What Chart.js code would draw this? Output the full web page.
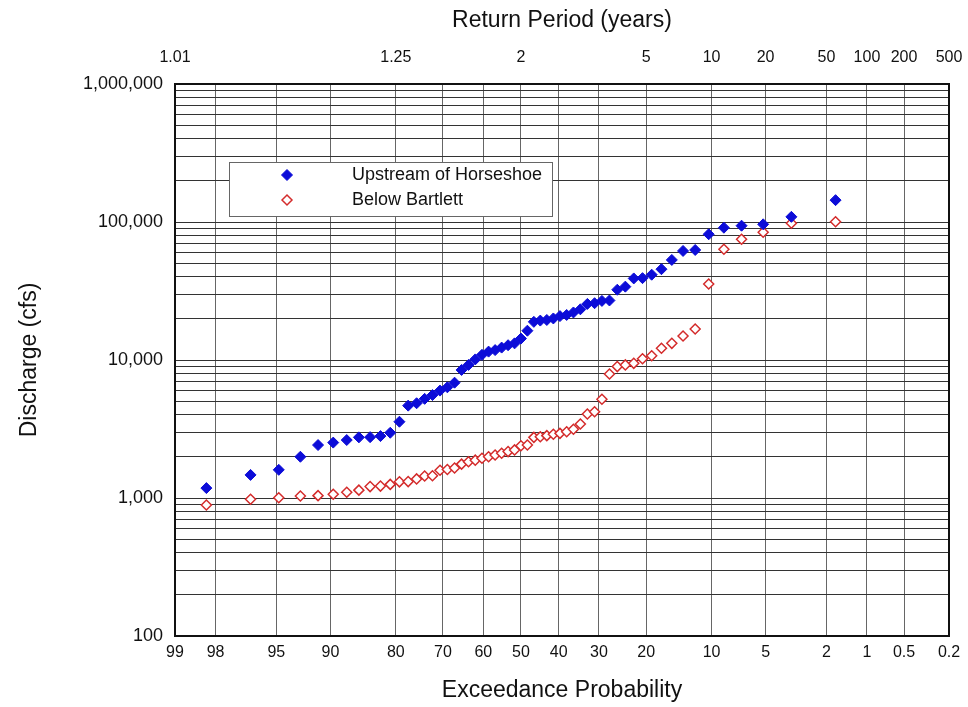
<!DOCTYPE html>
<html>
<head>
<meta charset="utf-8">
<script src="https://cdn.jsdelivr.net/npm/chart.js@4.4.1/dist/chart.umd.min.js"></script>
<style>
  html, body { margin: 0; padding: 0; background: #fff; }
  #wrap { width: 968px; height: 707px; position: relative; }
</style>
</head>
<body>
<div id="wrap"><canvas id="chart"></canvas></div>
<script>
// exceedance probability (%) of each ranked flow
const exceedancePct = [98.28, 96.55, 94.83, 93.10, 91.38, 89.66, 87.93, 86.21, 84.48, 82.76,
  81.03, 79.31, 77.59, 75.86, 74.14, 72.41, 70.69, 68.97, 67.24, 65.52,
  63.79, 62.07, 60.34, 58.62, 56.90, 55.17, 53.45, 51.72, 50.00, 48.28,
  46.55, 44.83, 43.10, 41.38, 39.66, 37.93, 36.21, 34.48, 32.76, 31.03,
  29.31, 27.59, 25.86, 24.14, 22.41, 20.69, 18.97, 17.24, 15.52, 13.79,
  12.07, 10.34, 8.62, 6.90, 5.17, 3.45, 1.72];

const upstreamHorseshoe = [1180, 1470, 1600, 1990, 2420, 2520, 2630, 2750, 2760, 2810,
  2970, 3570, 4670, 4860, 5230, 5570, 6000, 6340, 6850, 8470,
  9210, 10100, 10900, 11500, 11800, 12300, 12800, 13200, 14300, 16300,
  18900, 19300, 19500, 20000, 20800, 21200, 22100, 23300, 25500, 25800,
  26800, 27000, 32300, 34000, 39000, 39200, 41500, 45500, 53100, 61700,
  62700, 81500, 90900, 94000, 96200, 109000, 144000];

const belowBartlett = [890, 980, 1005, 1035, 1040, 1065, 1100, 1140, 1210, 1220,
  1255, 1310, 1315, 1375, 1445, 1450, 1590, 1610, 1650, 1760,
  1830, 1880, 1940, 1990, 2050, 2110, 2170, 2230, 2390, 2420,
  2750, 2780, 2830, 2900, 2940, 3020, 3150, 3440, 4060, 4220,
  5190, 7920, 8960, 9210, 9460, 10200, 10740, 12160, 13210, 14930,
  16780, 35550, 63460, 74950, 84200, 97900, 100500];

const probTicks = [99, 98, 95, 90, 80, 70, 60, 50, 40, 30, 20, 10, 5, 2, 1, 0.5, 0.2];
const probTickLabels = ['99', '98', '95', '90', '80', '70', '60', '50', '40', '30', '20', '10', '5', '2', '1', '0.5', '0.2'];
const returnTicks = [99, 80, 50, 20, 10, 5, 2, 1, 0.5, 0.2];
const returnTickLabels = ['1.01', '1.25', '2', '5', '10', '20', '50', '100', '200', '500'];
const yDecades = [100, 1000, 10000, 100000, 1000000];
const yTickLabels = ['100', '1,000', '10,000', '100,000', '1,000,000'];

// inverse standard normal CDF (Acklam)
function probit(p) {
  const a = [-39.69683028665376, 220.9460984245205, -275.9285104469687, 138.3577518672690, -30.66479806614716, 2.506628277459239];
  const b = [-54.47609879822406, 161.5858368580409, -155.6989798598866, 66.80131188771972, -13.28068155288572];
  const c = [-0.007784894002430293, -0.3223964580411365, -2.400758277161838, -2.549732539343734, 4.374664141464968, 2.938163982698783];
  const d = [0.007784695709041462, 0.3224671290700398, 2.445134137142996, 3.754408661907416];
  const pl = 0.02425;
  let q, r;
  if (p < pl) {
    q = Math.sqrt(-2 * Math.log(p));
    return (((((c[0] * q + c[1]) * q + c[2]) * q + c[3]) * q + c[4]) * q + c[5]) / ((((d[0] * q + d[1]) * q + d[2]) * q + d[3]) * q + 1);
  }
  if (p > 1 - pl) {
    q = Math.sqrt(-2 * Math.log(1 - p));
    return -(((((c[0] * q + c[1]) * q + c[2]) * q + c[3]) * q + c[4]) * q + c[5]) / ((((d[0] * q + d[1]) * q + d[2]) * q + d[3]) * q + 1);
  }
  q = p - 0.5;
  r = q * q;
  return (((((a[0] * r + a[1]) * r + a[2]) * r + a[3]) * r + a[4]) * r + a[5]) * q / (((((b[0] * r + b[1]) * r + b[2]) * r + b[3]) * r + b[4]) * r + 1);
}

// normal-probability axis, values are exceedance percent
class ProbabilityScale extends Chart.Scale {
  determineDataLimits() {
    this.min = this.options.range[0];
    this.max = this.options.range[1];
  }
  buildTicks() {
    return this.options.tickValues.map((v) => ({ value: v }));
  }
  getLabelForValue(v) {
    return String(v);
  }
  _z(v) {
    const p = Math.min(Math.max(1 - v / 100, 1e-6), 1 - 1e-6);
    return probit(p);
  }
  getPixelForValue(v) {
    const z0 = this._z(this.min);
    const z1 = this._z(this.max);
    return this.getPixelForDecimal((this._z(v) - z0) / (z1 - z0));
  }
  getValueForPixel(px) {
    const target = this.getDecimalForPixel(px);
    let lo = this.max, hi = this.min;
    for (let i = 0; i < 50; i++) {
      const mid = (lo + hi) / 2;
      const dec = (this._z(mid) - this._z(this.min)) / (this._z(this.max) - this._z(this.min));
      if (dec > target) lo = mid; else hi = mid;
    }
    return (lo + hi) / 2;
  }
}
ProbabilityScale.id = 'probability';
ProbabilityScale.defaults = {};
Chart.register(ProbabilityScale);

Chart.defaults.font.family = '"Liberation Sans", Arial, sans-serif';
Chart.defaults.color = '#111';

const frame = {
  id: 'frame',
  beforeDatasetsDraw(chart) {
    const { ctx, chartArea: a } = chart;
    ctx.save();
    ctx.strokeStyle = '#111';
    ctx.lineWidth = 2;
    ctx.strokeRect(a.left, a.top, a.right - a.left, a.bottom - a.top);
    ctx.restore();
  }
};

const boxLegend = {
  id: 'boxLegend',
  afterDraw(chart) {
    const { ctx, chartArea: a } = chart;
    const left = a.left + 54, top = a.top + 78, w = 323, h = 54;
    ctx.save();
    ctx.fillStyle = '#fff';
    ctx.fillRect(left, top, w, h);
    ctx.strokeStyle = '#666';
    ctx.lineWidth = 1;
    ctx.strokeRect(left + 0.5, top + 0.5, w, h);
    ctx.font = '18px "Liberation Sans", Arial, sans-serif';
    ctx.textBaseline = 'middle';
    chart.data.datasets.forEach((ds, i) => {
      const y = top + 13 + i * 25;
      ctx.fillStyle = ds.backgroundColor;
      ctx.strokeStyle = ds.borderColor;
      ctx.lineWidth = ds.borderWidth;
      Chart.helpers.drawPoint(ctx, { pointStyle: 'rectRot', radius: ds.pointRadius, rotation: 0, borderWidth: ds.borderWidth }, left + 58, y);
      ctx.fillStyle = '#111';
      ctx.fillText(ds.label, left + 123, y);
    });
    ctx.restore();
  }
};

const noSidePadding = (s) => { s.paddingLeft = 0; s.paddingRight = 0; };

new Chart(document.getElementById('chart'), {
  type: 'scatter',
  data: {
    datasets: [
      {
        label: 'Upstream of Horseshoe',
        data: exceedancePct.map((p, i) => ({ x: p, y: upstreamHorseshoe[i] })),
        pointStyle: 'rectRot',
        pointRadius: 5.5,
        backgroundColor: '#0c0cd8',
        borderColor: '#0c0cd8',
        borderWidth: 1,
        xAxisID: 'x',
        yAxisID: 'y'
      },
      {
        label: 'Below Bartlett',
        data: exceedancePct.map((p, i) => ({ x: p, y: belowBartlett[i] })),
        pointStyle: 'rectRot',
        pointRadius: 5,
        backgroundColor: '#ffffff',
        borderColor: '#d42c2c',
        borderWidth: 1.5,
        xAxisID: 'x',
        yAxisID: 'y'
      }
    ]
  },
  options: {
    responsive: true,
    maintainAspectRatio: false,
    animation: false,
    layout: { padding: { left: 0, right: 19, top: 0, bottom: 0 } },
    plugins: {
      legend: { display: false },
      tooltip: { enabled: false }
    },
    scales: {
      x: {
        type: 'probability',
        position: 'bottom',
        range: [99, 0.2],
        tickValues: probTicks,
        afterFit: (s) => { s.height = 71; noSidePadding(s); },
        grid: { color: '#666', lineWidth: 1, drawTicks: false },
        border: { display: false },
        ticks: {
          autoSkip: false,
          maxRotation: 0,
          padding: 7,
          font: { size: 16 },
          callback: (v, i) => probTickLabels[i]
        },
        title: {
          display: true,
          text: 'Exceedance Probability',
          font: { size: 23 },
          padding: { top: 0, bottom: 3 }
        }
      },
      x2: {
        type: 'probability',
        position: 'top',
        range: [99, 0.2],
        tickValues: returnTicks,
        afterFit: (s) => { s.height = 84; noSidePadding(s); },
        grid: { display: false, drawTicks: false },
        border: { display: false },
        ticks: {
          autoSkip: false,
          maxRotation: 0,
          padding: 17,
          font: { size: 16 },
          callback: (v, i) => returnTickLabels[i]
        },
        title: {
          display: true,
          text: 'Return Period (years)',
          font: { size: 23 },
          padding: { top: 7, bottom: 0 }
        }
      },
      y: {
        type: 'logarithmic',
        position: 'left',
        min: 100,
        max: 1000000,
        afterFit: (s) => { s.width = 175; },
        afterBuildTicks: (s) => {
          const ticks = [];
          yDecades.forEach((d, i) => {
            if (i === yDecades.length - 1) { ticks.push({ value: d }); return; }
            for (let m = 1; m <= 9; m++) ticks.push({ value: d * m });
          });
          s.ticks = ticks;
        },
        grid: { color: '#333', lineWidth: 1, drawTicks: false },
        border: { display: false },
        ticks: {
          autoSkip: false,
          padding: 12,
          font: { size: 18 },
          callback: (v) => {
            const k = yDecades.indexOf(v);
            return k >= 0 ? yTickLabels[k] : '';
          }
        },
        title: {
          display: true,
          text: 'Discharge (cfs)',
          font: { size: 23 },
          padding: { top: 16, bottom: 0 }
        }
      }
    }
  },
  plugins: [frame, boxLegend]
});
</script>
</body>
</html>
